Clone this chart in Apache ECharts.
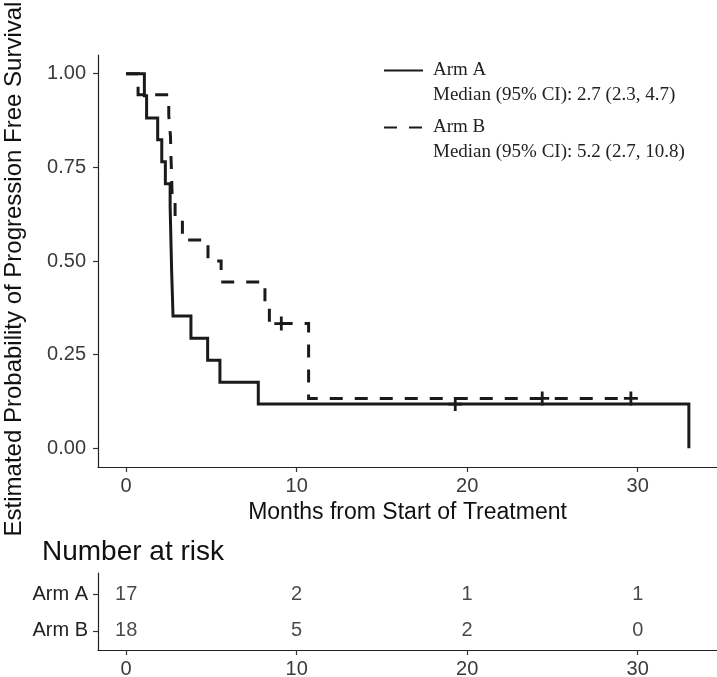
<!DOCTYPE html>
<html><head><meta charset="utf-8">
<script src="https://cdn.jsdelivr.net/npm/echarts@6/dist/echarts.min.js"></script>
<style>html,body{margin:0;padding:0;background:#fff}#c{width:717px;height:677px}</style>
</head><body><div id="c"></div>
<script>
// ---- data ----
const timesA = [0, 1.07, 1.2, 1.85, 2.09, 2.3, 2.58, 2.61, 2.64, 2.67, 2.71, 2.75, 3.8, 4.78, 5.5, 7.75, 33];
const survA  = [1, 0.941, 0.882, 0.824, 0.765, 0.706, 0.647, 0.588, 0.529, 0.471, 0.412, 0.353, 0.294, 0.235, 0.176, 0.118, 0];
const timesB = [0, 0.7, 2.5, 2.6, 2.63, 2.67, 2.7, 2.87, 3.3, 4.8, 5.57, 8.14, 8.4, 10.7, 29.6];
const survB  = [1, 0.944, 0.889, 0.833, 0.778, 0.722, 0.667, 0.611, 0.556, 0.5, 0.444, 0.389, 0.333, 0.133, 0.133];
const censorTimesA = [19.3];
const censorSurvA  = [0.118];
const censorTimesB = [9.1, 24.4, 29.6];
const censorSurvB  = [0.333, 0.133, 0.133];
const riskTimes = [0, 10, 20, 30];
const riskA = [17, 2, 1, 1];
const riskB = [18, 5, 2, 0];
const armNames = ['Arm A', 'Arm B'];
const medianText = ['Median (95% CI): 2.7 (2.3, 4.7)', 'Median (95% CI): 5.2 (2.7, 10.8)'];
const xTicks = [0, 10, 20, 30];
const yTicks = [0, 0.25, 0.5, 0.75, 1];

// ---- chart ----
const SANS = 'Liberation Sans, Arial, sans-serif';
const SERIF = 'Liberation Serif, Times New Roman, serif';
const ink = '#1a1a1a';
const zip = (a, b) => a.map((v, i) => [v, b[i]]);
const plusSymbol = 'path://M0,5.6H14V8.4H0Z M5.6,0H8.4V14H5.6Z';

function xAxisCfg(gi, withName) {
  return {
    type: 'value', gridIndex: gi, min: -1.65, max: 34.65,
    splitLine: { show: false },
    axisLine: { show: true, onZero: false, lineStyle: { color: '#222', width: 1.2 } },
    axisTick: { show: true, customValues: xTicks, length: 5, lineStyle: { color: '#333', width: 1.2 } },
    axisLabel: { customValues: xTicks, fontSize: 20, color: '#3a3a3a', margin: 9, fontFamily: SANS },
    name: withName ? 'Months from Start of Treatment' : '',
    nameLocation: 'middle', nameGap: 33,
    nameTextStyle: { fontSize: 23, color: '#111', fontFamily: SANS }
  };
}

const chart = echarts.init(document.getElementById('c'), null, { renderer: 'canvas' });
chart.setOption({
  animation: false,
  backgroundColor: '#fff',
  title: {
    text: 'Number at risk', left: 37, top: 533,
    textStyle: { fontSize: 28, fontWeight: 'normal', color: '#111', fontFamily: SANS }
  },
  legend: armNames.map((nm, i) => ({
    data: [nm], left: 383, top: i === 0 ? 33 : 90, padding: 0,
    orient: 'vertical', itemWidth: 39, itemHeight: 12, selectedMode: false,
    itemStyle: { opacity: 0 },
    formatter: n => '\n' + n + '\n' + medianText[armNames.indexOf(n)],
    textStyle: { fontSize: 19, lineHeight: 25, color: '#222', fontFamily: SERIF, padding: [0, 0, 0, 5] }
  })),
  grid: [
    { left: 98, top: 55, width: 619, height: 412, outerBoundsMode: 'none', containLabel: false },
    { left: 98, top: 573, width: 619, height: 77, outerBoundsMode: 'none', containLabel: false }
  ],
  xAxis: [xAxisCfg(0, true), xAxisCfg(1, false)],
  yAxis: [
    {
      type: 'value', gridIndex: 0, min: -0.05, max: 1.05,
      splitLine: { show: false },
      axisLine: { show: true, onZero: false, lineStyle: { color: '#222', width: 1.2 } },
      axisTick: { show: true, customValues: yTicks, length: 5, lineStyle: { color: '#333', width: 1.2 } },
      axisLabel: { customValues: yTicks, formatter: v => v.toFixed(2), fontSize: 20, color: '#3a3a3a', margin: 12, fontFamily: SANS },
      name: 'Estimated Probability of Progression Free Survival',
      nameLocation: 'middle', nameGap: 72,
      nameTextStyle: { fontSize: 24, color: '#111', fontFamily: SANS, padding: [0, 16, 0, 0] }
    },
    {
      type: 'value', gridIndex: 1, min: 0.47, max: 2.6,
      splitLine: { show: false },
      axisLine: { show: true, onZero: false, lineStyle: { color: '#222', width: 1.2 } },
      axisTick: { show: true, customValues: [1, 2], length: 5, lineStyle: { color: '#333', width: 1.2 } },
      axisLabel: { customValues: [1, 2], formatter: v => (v === 2 ? armNames[0] : armNames[1]), fontSize: 20, color: '#222', margin: 10, fontFamily: SANS }
    }
  ],
  series: [
    {
      name: armNames[0], type: 'line', step: 'end', xAxisIndex: 0, yAxisIndex: 0,
      data: zip(timesA, survA), symbol: 'none', color: ink,
      lineStyle: { color: ink, width: 3, cap: 'butt', join: 'miter' }, z: 3
    },
    {
      name: armNames[1], type: 'line', step: 'end', xAxisIndex: 0, yAxisIndex: 0,
      data: zip(timesB, survB), symbol: 'none', color: ink,
      lineStyle: { color: ink, width: 3, type: [13, 12], cap: 'butt', join: 'miter' }, z: 3
    },
    {
      name: 'censorA', type: 'scatter', xAxisIndex: 0, yAxisIndex: 0,
      data: zip(censorTimesA, censorSurvA), symbol: plusSymbol, symbolSize: 14,
      itemStyle: { color: ink, opacity: 1 }, z: 4
    },
    {
      name: 'censorB', type: 'scatter', xAxisIndex: 0, yAxisIndex: 0,
      data: zip(censorTimesB, censorSurvB), symbol: plusSymbol, symbolSize: 14,
      itemStyle: { color: ink, opacity: 1 }, z: 4
    },
    {
      name: 'riskA', type: 'scatter', xAxisIndex: 1, yAxisIndex: 1,
      data: riskTimes.map((t, i) => [t, 2, riskA[i]]), symbolSize: 0,
      label: { show: true, position: 'inside', formatter: p => String(p.value[2]), fontSize: 20, color: ink, fontFamily: SANS }
    },
    {
      name: 'riskB', type: 'scatter', xAxisIndex: 1, yAxisIndex: 1,
      data: riskTimes.map((t, i) => [t, 1, riskB[i]]), symbolSize: 0,
      label: { show: true, position: 'inside', formatter: p => String(p.value[2]), fontSize: 20, color: ink, fontFamily: SANS }
    }
  ]
});
</script>
</body></html>
